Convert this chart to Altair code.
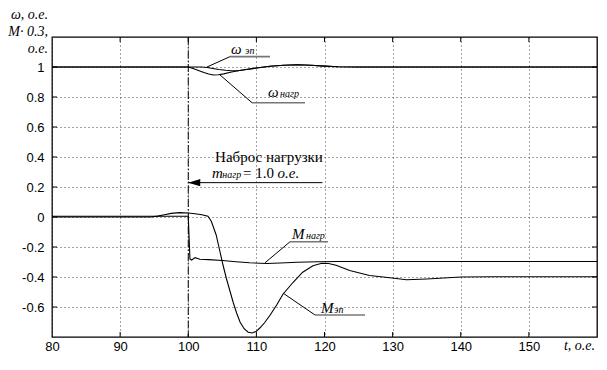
import altair as alt
import pandas as pd

# ---------------- data ----------------
w_load_t = [80, 100, 100.7, 101.5, 102.3, 103.0, 103.7, 104.4, 105.2, 106.2, 107.3, 108.5, 110, 112, 114, 116, 118, 120, 122, 125, 130, 160]
w_load_v = [1.0, 1.0, 0.99, 0.977, 0.963, 0.953, 0.947, 0.948, 0.954, 0.965, 0.975, 0.983, 0.993, 1.005, 1.012, 1.015, 1.012, 1.006, 1.002, 1.0, 1.0, 1.0]

w_motor_t = [80, 100, 102, 102.8, 103.6, 104.5, 105.5, 106.3, 107.3, 108.5, 110, 112, 114, 116, 118, 120, 122, 125, 130, 160]
w_motor_v = [1.0, 1.0, 1.0, 0.997, 0.99, 0.983, 0.978, 0.975, 0.975, 0.983, 0.993, 1.005, 1.012, 1.015, 1.012, 1.006, 1.002, 1.0, 1.0, 1.0]

m_load_t = [80, 100.0, 100.25, 100.5, 101.0, 101.7, 103, 105, 107, 109, 111.5, 113.5, 116, 119, 122, 130, 160]
m_load_v = [0.005, 0.005, -0.28, -0.287, -0.271, -0.282, -0.284, -0.29, -0.298, -0.305, -0.31, -0.307, -0.302, -0.298, -0.297, -0.297, -0.297]

m_motor_t = [80, 94.5, 95.5, 96.5, 97.5, 98.7, 100, 101, 102, 102.9, 103.4, 104.1, 104.6, 105.1, 105.6, 106.1,
             106.6, 107.1, 107.6, 108.2, 108.8, 109.4, 110.0, 110.5, 111.2, 112.0, 113.0, 113.9, 115.4, 116.8,
             118.3, 119.6, 120.6, 121.7, 123.7, 126.6, 129.6, 132, 135, 140, 145, 160]
m_motor_v = [0.0, 0.0, 0.006, 0.015, 0.024, 0.029, 0.027, 0.022, 0.015, 0.005, -0.03, -0.12, -0.22, -0.32, -0.41, -0.49,
             -0.57, -0.64, -0.70, -0.745, -0.768, -0.773, -0.762, -0.74, -0.705, -0.655, -0.585, -0.515, -0.435, -0.368,
             -0.325, -0.308, -0.31, -0.322, -0.357, -0.39, -0.405, -0.418, -0.413, -0.400, -0.398, -0.398]

x_ticks = [80, 90, 100, 110, 120, 130, 140, 150]
y_ticks = [-0.6, -0.4, -0.2, 0, 0.2, 0.4, 0.6, 0.8, 1]
inner_x_ticks = [90, 100, 110, 120, 130, 140, 150]

# leader lines: curve point -> corner -> end of underline
lead_t0 = [102.75, 104.66, 111.27, 113.9]
lead_v0 = [1.0, 0.947, -0.305, -0.507]
lead_t1 = [106.13, 109.36, 114.94, 118.6]
lead_v1 = [1.069, 0.762, -0.165, -0.653]
lead_t2 = [112.0, 117.14, 120.51, 125.95]

# labels
big_lab_text = ["ω", "ω", "M", "M", "m"]
big_lab_t = [106.28, 111.7, 115.23, 119.49, 103.49]
big_lab_v = [1.087, 0.797, -0.147, -0.64, 0.26]
sub_lab_text = ["эп", "нагр", "нагр", "эп", "нагр"]
sub_lab_t = [108.33, 113.47, 117.28, 121.4, 105.0]
sub_lab_v = [1.087, 0.797, -0.147, -0.64, 0.26]

# ---------------- build tables ----------------
rows = []
for name, ts, vs in [("w_load", w_load_t, w_load_v), ("w_motor", w_motor_t, w_motor_v),
                     ("m_load", m_load_t, m_load_v), ("m_motor", m_motor_t, m_motor_v)]:
    for i, (t, v) in enumerate(zip(ts, vs)):
        rows.append({"series": name, "i": i, "t": t, "v": v})
curves = pd.DataFrame(rows)

xs = alt.Scale(domain=[80, 160], nice=False, zero=False)
ys = alt.Scale(domain=[-0.8, 1.2], nice=False, zero=False)
W, H = 545, 300
SERIF = "Liberation Serif"
SANS = "Liberation Sans"

x_axis = alt.Axis(values=x_ticks, grid=True, gridDash=[1, 3], gridColor="#444",
                  gridWidth=1, gridOpacity=1, ticks=False, tickSize=0, domain=False,
                  labelFont=SANS, labelFontSize=13, labelColor="black",
                  labelPadding=3, title=None, labelFlush=False)
y_axis = alt.Axis(values=y_ticks, grid=True, gridDash=[1, 3], gridColor="#444",
                  gridWidth=1, gridOpacity=1, ticks=False, tickSize=0, domain=False,
                  labelFont=SANS, labelFontSize=13, labelColor="black",
                  labelPadding=8, title=None, labelFlush=False,
                  labelExpr="'' + datum.value")


def X(f):
    return alt.X(f, scale=xs, axis=x_axis, title=None)


def Y(f):
    return alt.Y(f, scale=ys, axis=y_axis, title=None)


lines = alt.Chart(curves).mark_line(color="black", strokeWidth=1.1, clip=True).encode(
    x=X("t:Q"), y=Y("v:Q"), detail="series:N", order="i:Q")

vline = alt.Chart(pd.DataFrame({"t": [100]})).mark_rule(color="black", strokeWidth=1, strokeDash=[8, 2, 1.5, 2]).encode(
    x=X("t:Q"))

# inner ticks
xt = pd.DataFrame({"t": inner_x_ticks})
yt = pd.DataFrame({"v": y_ticks})
tick_b = alt.Chart(xt).mark_rule(color="black").encode(x=X("t:Q"), y=alt.value(H), y2=alt.value(H - 5))
tick_t = alt.Chart(xt).mark_rule(color="black").encode(x=X("t:Q"), y=alt.value(0), y2=alt.value(5))
tick_l = alt.Chart(yt).mark_rule(color="black").encode(y=Y("v:Q"), x=alt.value(0), x2=alt.value(5))
tick_r = alt.Chart(yt).mark_rule(color="black").encode(y=Y("v:Q"), x=alt.value(W), x2=alt.value(W - 5))

# leaders
lead = pd.DataFrame({"t0": lead_t0, "v0": lead_v0, "t1": lead_t1, "v1": lead_v1, "t2": lead_t2})
lead_diag = alt.Chart(lead).mark_rule(color="black", strokeWidth=1).encode(
    x=X("t0:Q"), y=Y("v0:Q"), x2="t1:Q", y2="v1:Q")
lead_hor = alt.Chart(lead).mark_rule(color="#777", strokeWidth=1.6).encode(
    x=X("t1:Q"), y=Y("v1:Q"), x2="t2:Q")

big = pd.DataFrame({"text": big_lab_text, "t": big_lab_t, "v": big_lab_v})
sub = pd.DataFrame({"text": sub_lab_text, "t": sub_lab_t, "v": sub_lab_v})
big_txt = alt.Chart(big).mark_text(font=SERIF, fontStyle="italic", fontSize=15, align="left", baseline="alphabetic", color="black").encode(
    x=X("t:Q"), y=Y("v:Q"), text="text:N")
sub_txt = alt.Chart(sub).mark_text(font=SERIF, fontStyle="italic", fontSize=10, align="left", baseline="alphabetic", color="black").encode(
    x=X("t:Q"), y=Y("v:Q"), text="text:N")

ann1 = alt.Chart(pd.DataFrame({"text": ["Наброс нагрузки"], "t": [111.85], "v": [0.37]})).mark_text(
    font=SERIF, fontSize=15, align="center", baseline="alphabetic", color="black").encode(
    x=X("t:Q"), y=Y("v:Q"), text="text:N")
ann2 = alt.Chart(pd.DataFrame({"text": ["= 1.0"], "t": [108.04], "v": [0.26]})).mark_text(
    font=SERIF, fontSize=15, align="left", baseline="alphabetic", color="black").encode(
    x=X("t:Q"), y=Y("v:Q"), text="text:N")
ann3 = alt.Chart(pd.DataFrame({"text": ["o.e."], "t": [113.1], "v": [0.26]})).mark_text(
    font=SERIF, fontStyle="italic", fontSize=15, align="left", baseline="alphabetic", color="black").encode(
    x=X("t:Q"), y=Y("v:Q"), text="text:N")

arrow_df = pd.DataFrame({"t": [100], "t2": [119.7], "v": [0.229]})
arrow_line = alt.Chart(arrow_df).mark_rule(color="black", strokeWidth=1).encode(
    x=X("t:Q"), x2="t2:Q", y=Y("v:Q"))
arrow_head = alt.Chart(arrow_df).mark_point(shape="M-1,0L1,-0.6L1,0.6Z", filled=True, color="black", opacity=1,
                                            size=144, xOffset=6).encode(
    x=X("t:Q"), y=Y("v:Q"))

# axis titles (as in the original, placed at the corners)
ytitle = pd.DataFrame({"text": ["ω, o.e.", "M· 0.3,", "o.e."], "py": [-18, -1, 16]})
ytitle_txt = alt.Chart(ytitle).mark_text(font=SERIF, fontStyle="italic", fontSize=14, align="right", baseline="alphabetic", color="black").encode(
    x=alt.value(-4), y=alt.Y("py:Q", scale=None), text="text:N")
xtitle_txt = alt.Chart(pd.DataFrame({"text": ["t, o.e."]})).mark_text(font=SERIF, fontStyle="italic", fontSize=14, align="right", baseline="alphabetic", color="black").encode(
    x=alt.value(W - 2), y=alt.value(H + 13), text="text:N")

chart = alt.layer(
    lines, vline, tick_b, tick_t, tick_l, tick_r, lead_diag, lead_hor, big_txt, sub_txt,
    ann1, ann2, ann3, arrow_line, arrow_head, ytitle_txt, xtitle_txt
).properties(
    width=W, height=H, autosize="none",
    padding={"left": 44, "top": 29, "right": 2, "bottom": 25},
    background="white",
).configure_view(stroke="black", strokeWidth=1.3)

chart.save("out.html", embed_options={"renderer": "svg", "actions": False})
